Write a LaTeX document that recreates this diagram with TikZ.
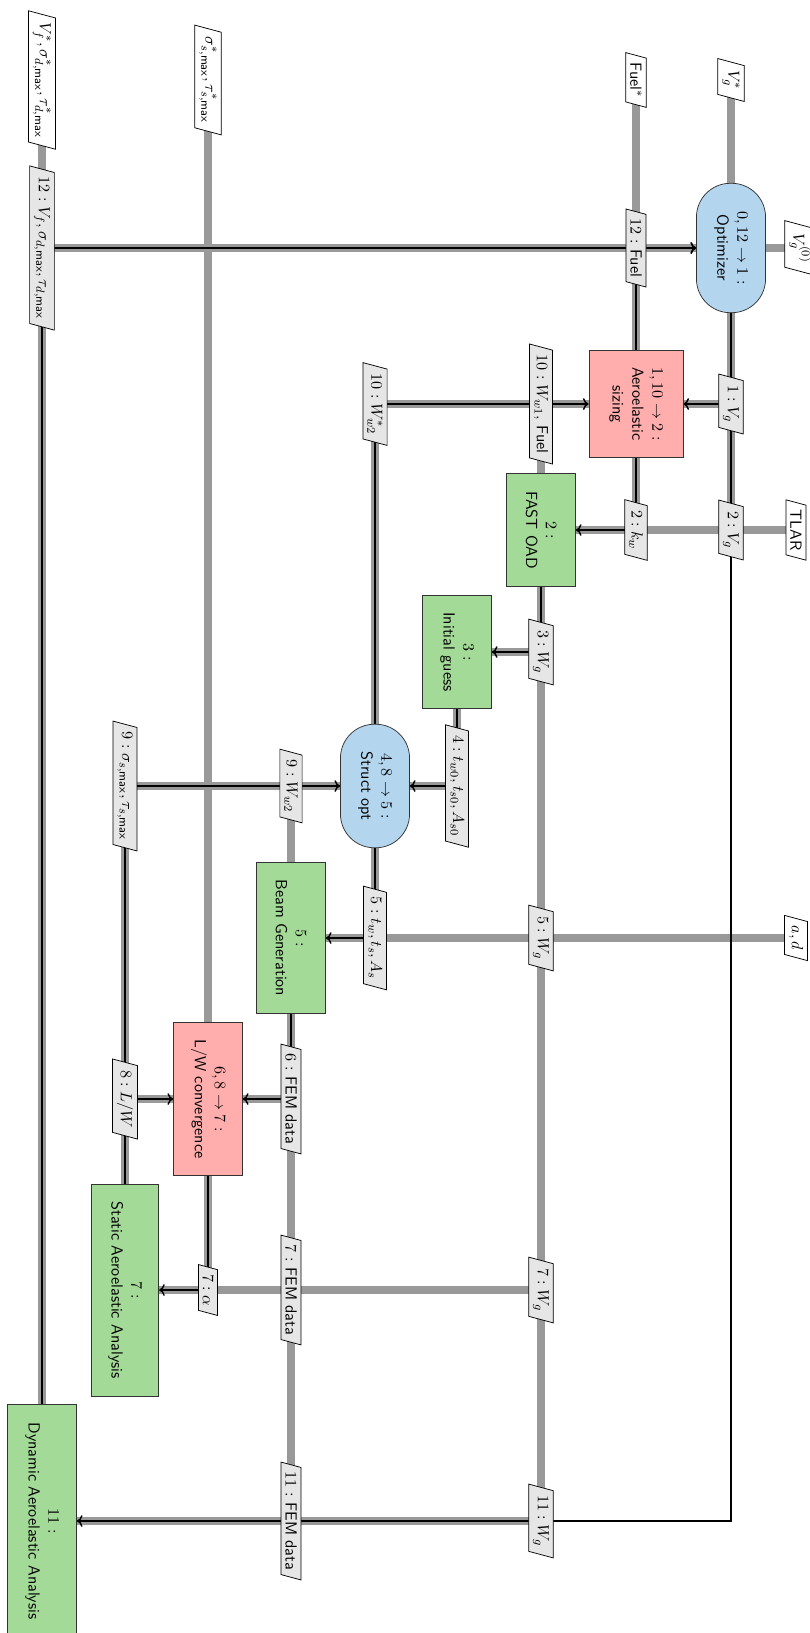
\documentclass[tikz,border=0pt]{standalone}
\usetikzlibrary{shapes.geometric,arrows.meta}
\definecolor{optblue}{RGB}{179,213,238}
\definecolor{funcgreen}{RGB}{164,218,151}
\definecolor{mdared}{RGB}{255,173,173}
\definecolor{datagrey}{RGB}{153,153,153}
\definecolor{labelgrey}{RGB}{230,230,230}
\pgfdeclarelayer{dataL}
\pgfdeclarelayer{procL}
\pgfsetlayers{dataL,procL,main}
\begin{document}
\begin{tikzpicture}[x=0.68pt,y=-0.68pt,
  every node/.style={font=\fontsize{10.95}{13.5}\selectfont\sffamily, rotate=-90},
  diag/.style={draw=black!80, line width=0.5pt, align=center, inner sep=2pt},
  optim/.style={diag, fill=optblue, rounded corners=23pt},
  func/.style={diag, fill=funcgreen},
  mda/.style={diag, fill=mdared},
  datainter/.style={draw=black, line width=0.5pt, fill=labelgrey, trapezium,
    trapezium left angle=75, trapezium right angle=105, inner sep=3pt},
  dataio/.style={datainter, fill=white},
  dline/.style={draw=datagrey, line width=5pt},
  pline/.style={draw=black, line width=1pt, ->},
]
\useasboundingbox (0,0) rectangle (809,1633);

% diagonal components
\node[optim, minimum width=88pt, minimum height=47pt] (opt) at (731,248) {$0, 12 \rightarrow 1:$\\Optimizer};
\node[mda, minimum width=73pt, minimum height=64pt] (aero) at (636,404) {$1, 10 \rightarrow 2:$\\Aeroelastic\\sizing};
\node[func, minimum width=77pt, minimum height=47pt] (fast) at (541,530) {$2:$\\FAST OAD};
\node[func, minimum width=77pt, minimum height=47pt] (init) at (457,652) {$3:$\\Initial guess};
\node[optim, minimum width=84pt, minimum height=47pt] (struct) at (375,786) {$4, 8 \rightarrow 5:$\\Struct opt};
\node[func, minimum width=103pt, minimum height=47pt] (beam) at (291,938) {$5:$\\Beam Generation};
\node[mda, minimum width=104pt, minimum height=47pt] (lw) at (208,1099) {$6, 8 \rightarrow 7:$\\L/W convergence};
\node[func, minimum width=144pt, minimum height=46pt] (static) at (125,1290) {$7:$\\Static Aeroelastic Analysis};
\node[func, minimum width=158pt, minimum height=47pt] (dyn) at (42,1521) {$11:$\\Dynamic Aeroelastic Analysis};

% inputs / outputs
\node[dataio] (Vgs) at (731,80) {$V_g^*$};
\node[dataio] (Fuels) at (636,80) {Fuel$^*$};
\node[dataio] (sigs) at (208,80) {$\sigma^*_{s,\mathsf{max}}, \tau^*_{s,\mathsf{max}}$};
\node[dataio] (Vfs) at (42,80) {$V_f^*, \sigma^*_{d,\mathsf{max}}, \tau^*_{d,\mathsf{max}}$};
\node[dataio] (Vg0) at (800,248) {$V_g^{(0)}$};
\node[dataio] (TLAR) at (796,530) {TLAR};
\node[dataio] (ad) at (796,938) {$a, d$};

% intermediate data
\node[datainter] (l12Fuel) at (636,248) {$12:$ Fuel};
\node[datainter] (l12Vf) at (42,248) {$12: V_f, \sigma_{d,\mathsf{max}}, \tau_{d,\mathsf{max}}$};
\node[datainter] (l1Vg) at (731,404) {$1: V_g$};
\node[datainter] (l10a) at (541,404) {$10: W_{w1},$ Fuel};
\node[datainter] (l10b) at (375,404) {$10: W^*_{w2}$};
\node[datainter] (l2Vg) at (731,530) {$2: V_g$};
\node[datainter] (l2kw) at (636,530) {$2: k_w$};
\node[datainter] (l3Wg) at (541,652) {$3: W_g$};
\node[datainter] (l4t) at (457,786) {$4: t_{w0}, t_{s0}, A_{s0}$};
\node[datainter] (l9Ww) at (291,786) {$9: W_{w2}$};
\node[datainter] (l9sig) at (125,786) {$9: \sigma_{s,\mathsf{max}}, \tau_{s,\mathsf{max}}$};
\node[datainter] (l5t) at (375,938) {$5: t_w, t_s, A_s$};
\node[datainter] (l5Wg) at (541,938) {$5: W_g$};
\node[datainter] (l6FEM) at (291,1099) {$6:$ FEM data};
\node[datainter] (l8LW) at (125,1099) {$8: L/W$};
\node[datainter] (l7a) at (208,1290) {$7: \alpha$};
\node[datainter] (l7FEM) at (291,1290) {$7:$ FEM data};
\node[datainter] (l7Wg) at (541,1290) {$7: W_g$};
\node[datainter] (l11Wg) at (541,1521) {$11: W_g$};
\node[datainter] (l11FEM) at (291,1521) {$11:$ FEM data};

% data lines
\begin{pgfonlayer}{dataL}
\draw[dline] (Vgs.center) -- (opt.center);
\draw[dline] (Vg0.center) -- (opt.center);
\draw[dline] (opt.center) |- (aero.center);
\draw[dline] (opt.center) |- (fast.center);
\draw[dline] (aero.center) |- (fast.center);
\draw[dline] (TLAR.center) -- (fast.center);
\draw[dline] (Fuels.center) -- (aero.center);
\draw[dline] (aero.center) |- (opt.center);
\draw[dline] (fast.center) |- (aero.center);
\draw[dline] (struct.center) |- (aero.center);
\draw[dline] (fast.center) |- (init.center);
\draw[dline] (fast.center) |- (beam.center);
\draw[dline] (fast.center) |- (static.center);
\draw[dline] (fast.center) |- (dyn.center);
\draw[dline] (init.center) |- (struct.center);
\draw[dline] (struct.center) |- (beam.center);
\draw[dline] (ad.center) -- (beam.center);
\draw[dline] (beam.center) |- (struct.center);
\draw[dline] (beam.center) |- (lw.center);
\draw[dline] (beam.center) |- (static.center);
\draw[dline] (beam.center) |- (dyn.center);
\draw[dline] (lw.center) |- (static.center);
\draw[dline] (sigs.center) -- (lw.center);
\draw[dline] (static.center) |- (lw.center);
\draw[dline] (static.center) |- (struct.center);
\draw[dline] (dyn.center) |- (opt.center);
\draw[dline] (Vfs.center) -- (dyn.center);
\end{pgfonlayer}

% process lines
\begin{pgfonlayer}{procL}
\draw[pline] (opt.center) |- (aero);
\draw[pline] (aero.center) |- (fast);
\draw[pline] (fast.center) |- (init);
\draw[pline] (init.center) |- (struct);
\draw[pline] (struct.center) |- (beam);
\draw[pline] (beam.center) |- (lw);
\draw[pline] (lw.center) |- (static);
\draw[pline] (static.center) |- (lw);
\draw[pline] (static.center) |- (struct);
\draw[pline] (struct.center) |- (aero);
\draw[pline] (aero.center) |- (opt);
\draw[pline] (opt.center) |- (dyn);
\draw[pline] (dyn.center) |- (opt);
\end{pgfonlayer}
\end{tikzpicture}
\end{document}
